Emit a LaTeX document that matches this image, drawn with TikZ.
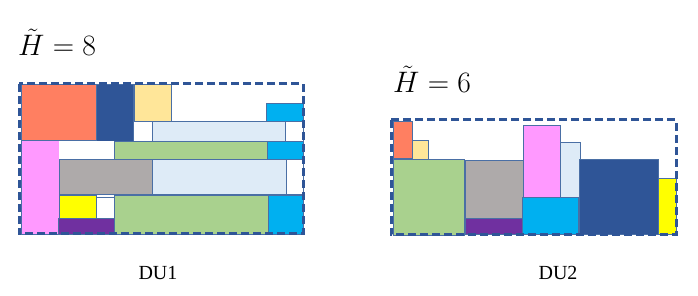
\documentclass[tikz,border=0pt]{standalone}
\usepackage{fontspec}
\newfontfamily\timesf{Liberation Serif}
\definecolor{csalmon}{HTML}{FF7F61}
\definecolor{cdblue}{HTML}{2F5597}
\definecolor{cbeige}{HTML}{FFE699}
\definecolor{ccyan}{HTML}{00B0F0}
\definecolor{clblue}{HTML}{DEEBF7}
\definecolor{cgreen}{HTML}{A9D18E}
\definecolor{cpink}{HTML}{FF99FF}
\definecolor{cgray}{HTML}{AEAAAA}
\definecolor{cyellow}{HTML}{FFFF00}
\definecolor{cpurple}{HTML}{7030A0}
\definecolor{cedge}{HTML}{4A6FA5}
\tikzset{
  blk/.style={draw=cedge, line width=0.8pt},
  dubox/.style={draw=cdblue, line width=3pt, dash pattern=on 8pt off 4pt},
  hlabel/.style={font=\Huge, scale=1.19, anchor=base west, inner sep=0pt},
  dulabel/.style={font=\timesf\fontsize{20}{24}\selectfont, anchor=base, inner sep=0pt}
}
\begin{document}
\begin{tikzpicture}[x=1pt,y=-1pt]
\useasboundingbox (0,0) rectangle (698,296);
% ---------- DU1 ----------
\filldraw[blk, fill=csalmon] (21,84) rectangle (96,140);
\filldraw[blk, fill=cdblue] (96,84) rectangle (133,141);
\filldraw[blk, fill=cbeige] (134,84) rectangle (171,121);
\filldraw[blk, fill=ccyan] (266,103) rectangle (303,121);
\filldraw[blk, fill=white] (133,121) rectangle (152,141);
\filldraw[blk, fill=clblue] (152,121) rectangle (285,141);
\filldraw[blk, fill=white] (285,121) rectangle (303,141);
\filldraw[blk, fill=cpink] (21,140) rectangle (59,234);
\filldraw[blk, fill=white, draw=white] (59,141) rectangle (114,159);
\filldraw[blk, fill=cgreen] (114,141) rectangle (267,159);
\filldraw[blk, fill=ccyan] (267,141) rectangle (303,159);
\filldraw[blk, fill=cgray] (59,159) rectangle (152,194);
\filldraw[blk, fill=clblue] (152,159) rectangle (286,194);
\filldraw[blk, fill=white] (286,159) rectangle (303,194);
\filldraw[blk, fill=cyellow] (59,195) rectangle (96,218);
\filldraw[blk, fill=white] (96,197) rectangle (114,218);
\filldraw[blk, fill=cpurple] (58,218) rectangle (114,234);
\filldraw[blk, fill=cgreen] (114,195) rectangle (268,234);
\filldraw[blk, fill=ccyan] (268,195) rectangle (303,234);
\draw[dubox] (19,84) rectangle (303,234);
% ---------- DU2 ----------
\filldraw[blk, fill=csalmon] (393,121) rectangle (412,158);
\filldraw[blk, fill=cbeige] (412,140) rectangle (428,159);
\filldraw[blk, fill=cgreen] (393,159) rectangle (464,235);
\filldraw[blk, fill=cgray] (465,160) rectangle (523,218);
\filldraw[blk, fill=cpurple] (465,218) rectangle (523,234);
\filldraw[blk, fill=cpink] (523,125) rectangle (560,197);
\filldraw[blk, fill=clblue] (560,142) rectangle (580,197);
\filldraw[blk, fill=ccyan] (522,197) rectangle (578,234);
\filldraw[blk, fill=cdblue] (579,159) rectangle (658,234);
\filldraw[blk, fill=cyellow] (658,178) rectangle (676,234);
\draw[dubox] (391,120) rectangle (676,235);
% ---------- labels ----------
\node[hlabel] (h1) at (18,56) {$\tilde{H}=8$};
\node[hlabel] (h2) at (393,93) {$\tilde{H}=6$};
\node[dulabel] (d1) at (158,279) {DU1};
\node[dulabel] (d2) at (558,279) {DU2};
\end{tikzpicture}
\end{document}
